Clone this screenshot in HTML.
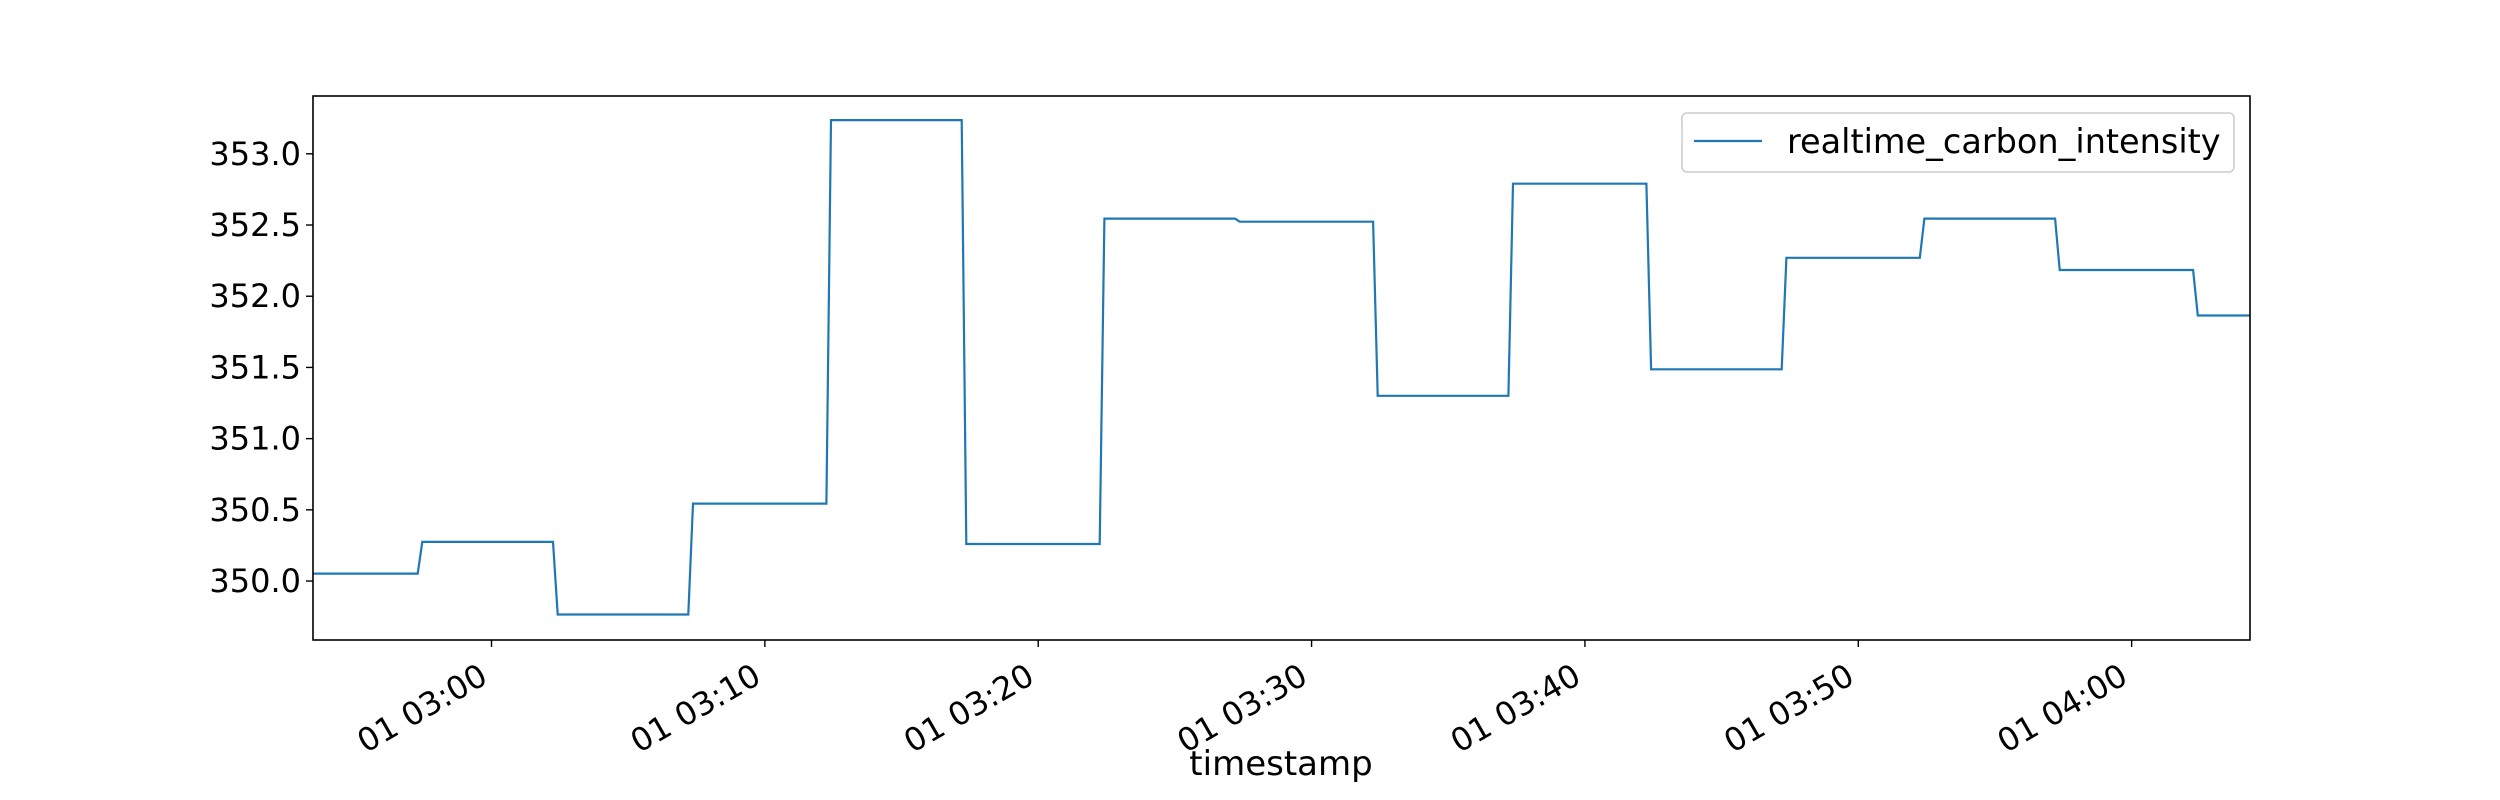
<!DOCTYPE html>
<html><head><meta charset="utf-8"><style>
html,body{margin:0;padding:0;background:#fff}
svg{display:block;font-family:"DejaVu Sans","Liberation Sans",sans-serif}
</style></head><body>
<svg id="chart" width="2500" height="800" viewBox="0 0 2500 800">
<rect x="0" y="0" width="2500" height="800" fill="#fff"/>
<g id="plot"></g>
</svg>
<script>
// minutes relative to 03:00 and values
const times = [-6.53,-2.7,-2.53,2.25,2.42,7.2,7.37,12.25,12.42,17.2,17.37,22.25,22.42,27.2,27.37,32.25,32.42,37.2,37.37,42.25,42.42,47.2,47.37,52.25,52.42,57.2,57.37,62.25,62.42,64.33];
const values = [350.052,350.052,350.275,350.275,349.765,349.765,350.544,350.544,353.237,353.237,350.26,350.26,352.545,352.545,352.523,352.523,351.301,351.301,352.79,352.79,351.487,351.487,352.27,352.27,352.545,352.545,352.184,352.184,351.865,351.865];
const yTicks = [350.0,350.5,351.0,351.5,352.0,352.5,353.0];
const xTicks = [0,10,20,30,40,50,60];
const xTickLabels = ["01 03:00","01 03:10","01 03:20","01 03:30","01 03:40","01 03:50","01 04:00"];

const L=313,R=2250,T=96,B=640;
const xMin=-6.53,xMax=64.33,yMin=349.586,yMax=353.406;
const X=v=>L+(v-xMin)/(xMax-xMin)*(R-L);
const Y=v=>B-(v-yMin)/(yMax-yMin)*(B-T);
const NS="http://www.w3.org/2000/svg";
const g=document.getElementById('plot');
function mk(tag,attrs,parent){const e=document.createElementNS(NS,tag);for(const k in attrs)e.setAttribute(k,attrs[k]);(parent||g).appendChild(e);return e;}

// series
const pts=times.map((t,i)=>X(t).toFixed(1)+','+Y(values[i]).toFixed(1)).join(' ');
const line=mk('polyline',{points:pts,fill:'none',stroke:'#1f77b4','stroke-width':2.2,'stroke-linejoin':'miter'});



// frame
const frame=mk('rect',{x:L,y:T,width:R-L,height:B-T,fill:'none',stroke:'#000','stroke-width':1.6});



// y ticks
yTicks.forEach(v=>{
  const y=Y(v);
  const tk=mk('line',{x1:L-7,x2:L,y1:y,y2:y,stroke:'#000','stroke-width':1.4});
  
  
  const tx=mk('text',{x:L-12,y:y+11,'text-anchor':'end','font-size':32,fill:'#000'});
  tx.textContent=v.toFixed(1);
  
  
});

// x ticks
xTicks.forEach((m,i)=>{
  const x=X(m);
  const tk=mk('line',{x1:x,x2:x,y1:B,y2:B+7,stroke:'#000','stroke-width':1.4});
  
  
  const ax=x-2,ay=B+42;
  const tx=mk('text',{x:ax,y:ay,'text-anchor':'end','font-size':32,fill:'#000',transform:`rotate(-30 ${ax} ${ay})`});
  tx.textContent=xTickLabels[i];
  
  
});

// x axis title
const xt=mk('text',{x:1281,y:775,'text-anchor':'middle','font-size':34,fill:'#000'});
xt.textContent='timestamp';



// legend
const lg=mk('g',{});


mk('rect',{x:1682,y:113,width:552,height:59,rx:5,fill:'#fff','fill-opacity':0.8,stroke:'#ccc','stroke-width':1.5},lg);
const ll=mk('line',{x1:1694,x2:1762,y1:141,y2:141,stroke:'#1f77b4','stroke-width':2.2},lg);


const lt=mk('text',{x:1787,y:153,'font-size':33.5,fill:'#000'},lg);
lt.textContent='realtime_carbon_intensity';


</script>
</body></html>
